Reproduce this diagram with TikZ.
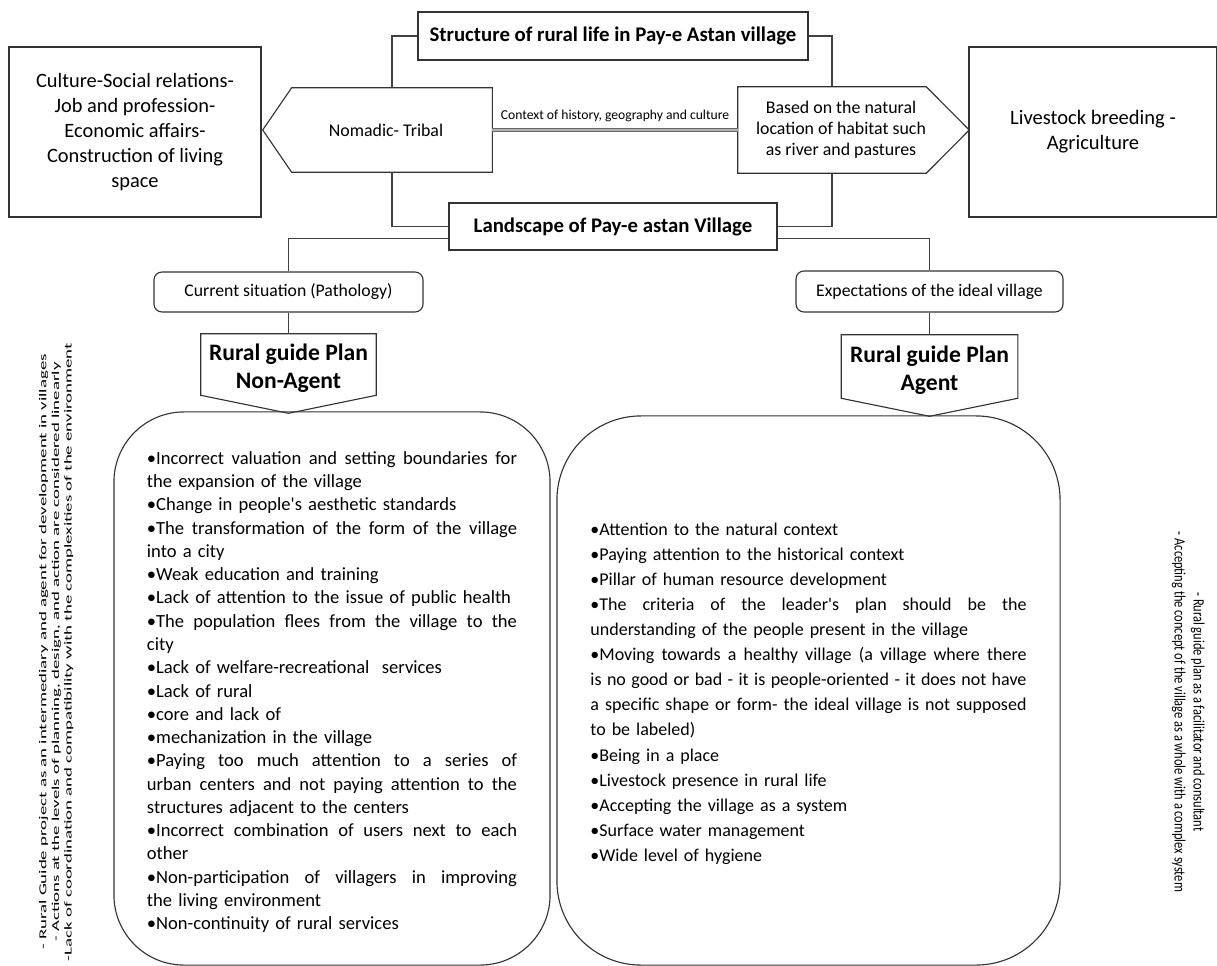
\documentclass[tikz,border=0pt]{standalone}
\usepackage{fontspec}
\setmainfont{Carlito}
\usetikzlibrary{positioning}

\newcommand\fullL[1]{{\spaceskip=\fontdimen2\font plus 1fil minus \fontdimen4\font
  \makebox[9.25cm][s]{#1}}}
\newcommand\fullR[1]{{\spaceskip=\fontdimen2\font plus 1fil minus \fontdimen4\font
  \makebox[10.9cm][s]{#1}}}

\tikzset{
  box/.style={draw=black!80, line width=0.8pt, inner sep=0pt, align=center},
  bare/.style={inner sep=0pt, align=center},
  roundbox/.style={box, rounded corners=0.2cm},
  bigbox/.style={box, rounded corners=1.75cm, align=left},
  outline/.style={draw=black!80, line width=0.8pt, line join=miter},
  link/.style={draw=black!75, line width=0.8pt},
  ctxline/.style={draw=black!60, double=black!30, double distance=1.4pt, line width=1pt},
}

\begin{document}
\begin{tikzpicture}[x=0.025cm, y=-0.025cm]
  \useasboundingbox (0,0) rectangle (1217,966);

  % top row
  \node[box, minimum width=9.75cm, minimum height=1.2cm,
    font=\bfseries\fontsize{14.8}{16}\selectfont] (title) at (613,36)
    {Structure of rural life in Pay-e Astan village};
  \node[box, minimum width=6.3cm, minimum height=4.25cm,
    font=\fontsize{14.5}{17.8}\selectfont] (social) at (135,132)
    {Culture-Social relations-\\Job and profession-\\Economic affairs-\\Construction of living\\space};
  \node[box, minimum width=6.2cm, minimum height=4.25cm,
    font=\fontsize{14.6}{17.8}\selectfont] (livestock) at (1093,132)
    {Livestock breeding -\\Agriculture};

  % pointed boxes
  \node[bare, minimum width=5cm, minimum height=2.1cm,
    font=\fontsize{12.7}{15}\selectfont] (nomadic) at (392,130)
    {\hspace*{-0.3cm}Nomadic- Tribal};
  \draw[outline] (nomadic.north east) -- (nomadic.north west)
    -- ([xshift=-0.725cm]nomadic.west) -- (nomadic.south west)
    -- (nomadic.south east) -- cycle;
  \node[bare, minimum width=4.65cm, minimum height=2.15cm,
    font=\fontsize{12.7}{14.9}\selectfont] (habitat) at (832,130)
    {\hspace*{0.45cm}\begin{tabular}{@{}c@{}}Based on the natural\\location of habitat such\\as river and pastures\end{tabular}};
  \draw[outline] (habitat.north west) -- (habitat.north east)
    -- ([xshift=1.075cm]habitat.east) -- (habitat.south east)
    -- (habitat.south west) -- cycle;
  \draw[ctxline] (nomadic.east) -- node[above=2pt, font=\fontsize{9.7}{11}\selectfont]
    {Context of history, geography and culture} (habitat.west);

  \node[box, minimum width=8.2cm, minimum height=1.175cm,
    font=\bfseries\fontsize{14.8}{16}\selectfont] (landscape) at (613,226.5)
    {Landscape of Pay-e astan Village};

  \draw[link] (title.west) -| (nomadic.north);
  \draw[link] (title.east) -| (habitat.north);
  \draw[link] (nomadic.south) |- (landscape.west);
  \draw[link] (habitat.south) |- (landscape.east);

  % two branches
  \node[roundbox, minimum width=6.725cm, minimum height=1cm,
    font=\fontsize{12.6}{14}\selectfont] (current) at (288.5,292)
    {Current situation (Pathology)};
  \node[roundbox, minimum width=6.675cm, minimum height=1.025cm,
    font=\fontsize{12.6}{14}\selectfont] (expect) at (929.5,291.5)
    {Expectations of the ideal village};
  \draw[link] ([yshift=-0.3cm]landscape.west) -| (current.north);
  \draw[link] ([yshift=-0.3cm]landscape.east) -| (expect.north);

  \node[bare, minimum width=4.375cm, minimum height=1.525cm,
    font=\bfseries\fontsize{16.8}{20}\selectfont] (nonagent) at (288.5,364.5)
    {\rule{0pt}{0.62cm}Rural guide Plan\\Non-Agent};
  \draw[outline] (nonagent.north west) -- (nonagent.north east)
    -- (nonagent.south east) -- ([yshift=-0.45cm]nonagent.south)
    -- (nonagent.south west) -- cycle;
  \node[bare, minimum width=4.4cm, minimum height=1.575cm,
    font=\bfseries\fontsize{16.8}{20}\selectfont] (agent) at (929.5,366.5)
    {\rule{0pt}{0.62cm}Rural guide Plan\\Agent};
  \draw[outline] (agent.north west) -- (agent.north east)
    -- (agent.south east) -- ([yshift=-0.45cm]agent.south)
    -- (agent.south west) -- cycle;
  \draw[link] (current.south) -- (nonagent.north);
  \draw[link] (expect.south) -- (agent.north);

  % lists
  \node[bigbox, minimum width=10.9cm, minimum height=13.825cm, text width=9.25cm,
    font=\fontsize{13.2}{16.54}\selectfont] (pathology) at (332,688.5)
    {\rule{0pt}{0.5cm}\fullL{•Incorrect valuation and setting boundaries for}\\
     the expansion of the village\\
     •Change in people\textquotesingle s aesthetic standards\\
     \fullL{•The transformation of the form of the village}\\
     into a city\\
     •Weak education and training\\
     •Lack of attention to the issue of public health\\
     \fullL{•The population flees from the village to the}\\
     city\\
     •Lack of welfare-recreational\ \ services\\
     •Lack of rural\\
     •core and lack of\\
     •mechanization in the village\\
     \fullL{•Paying too much attention to a series of}\\
     \fullL{urban centers and not paying attention to the}\\
     structures adjacent to the centers\\
     \fullL{•Incorrect combination of users next to each}\\
     other\\
     \fullL{•Non-participation of villagers in improving}\\
     the living environment\\
     •Non-continuity of rural services};
  \node[bigbox, rounded corners=2.1cm, minimum width=12.575cm, minimum height=13.725cm,
    text width=10.9cm, font=\fontsize{12.8}{17.84}\selectfont] (ideal) at (808.5,690.5)
    {\rule{0pt}{0.47cm}•Attention to the natural context\\
     •Paying attention to the historical context\\
     •Pillar of human resource development\\
     \fullR{•The criteria of the leader\textquotesingle s plan should be the}\\
     understanding of the people present in the village\\
     \fullR{•Moving towards a healthy village (a village where there}\\
     \fullR{is no good or bad - it is people-oriented - it does not have}\\
     \fullR{a specific shape or form- the ideal village is not supposed}\\
     to be labeled)\\
     •Being in a place\\
     •Livestock presence in rural life\\
     •Accepting the village as a system\\
     •Surface water management\\
     •Wide level of hygiene};

  % side notes
  \node[bare, rotate=90] (leftnote) at (56.5,652)
    {\resizebox*{15.45cm}{0.95cm}{\begin{tabular}{@{}c@{}}
      - Rural Guide project as an intermediary and agent for development in villages\\
      - Actions at the levels of planning, design, and action are considered linearly\\
      -Lack of coordination and compatibility with the complexities of the environment
    \end{tabular}}};
  \node[bare, rotate=-90] (rightnote) at (1188,712)
    {\resizebox*{9cm}{0.95cm}{\begin{tabular}{@{}c@{}}
      - Rural guide plan as a facilitator and consultant\\
      - Accepting the concept of the village as a whole with a complex system
    \end{tabular}}};
\end{tikzpicture}
\end{document}
